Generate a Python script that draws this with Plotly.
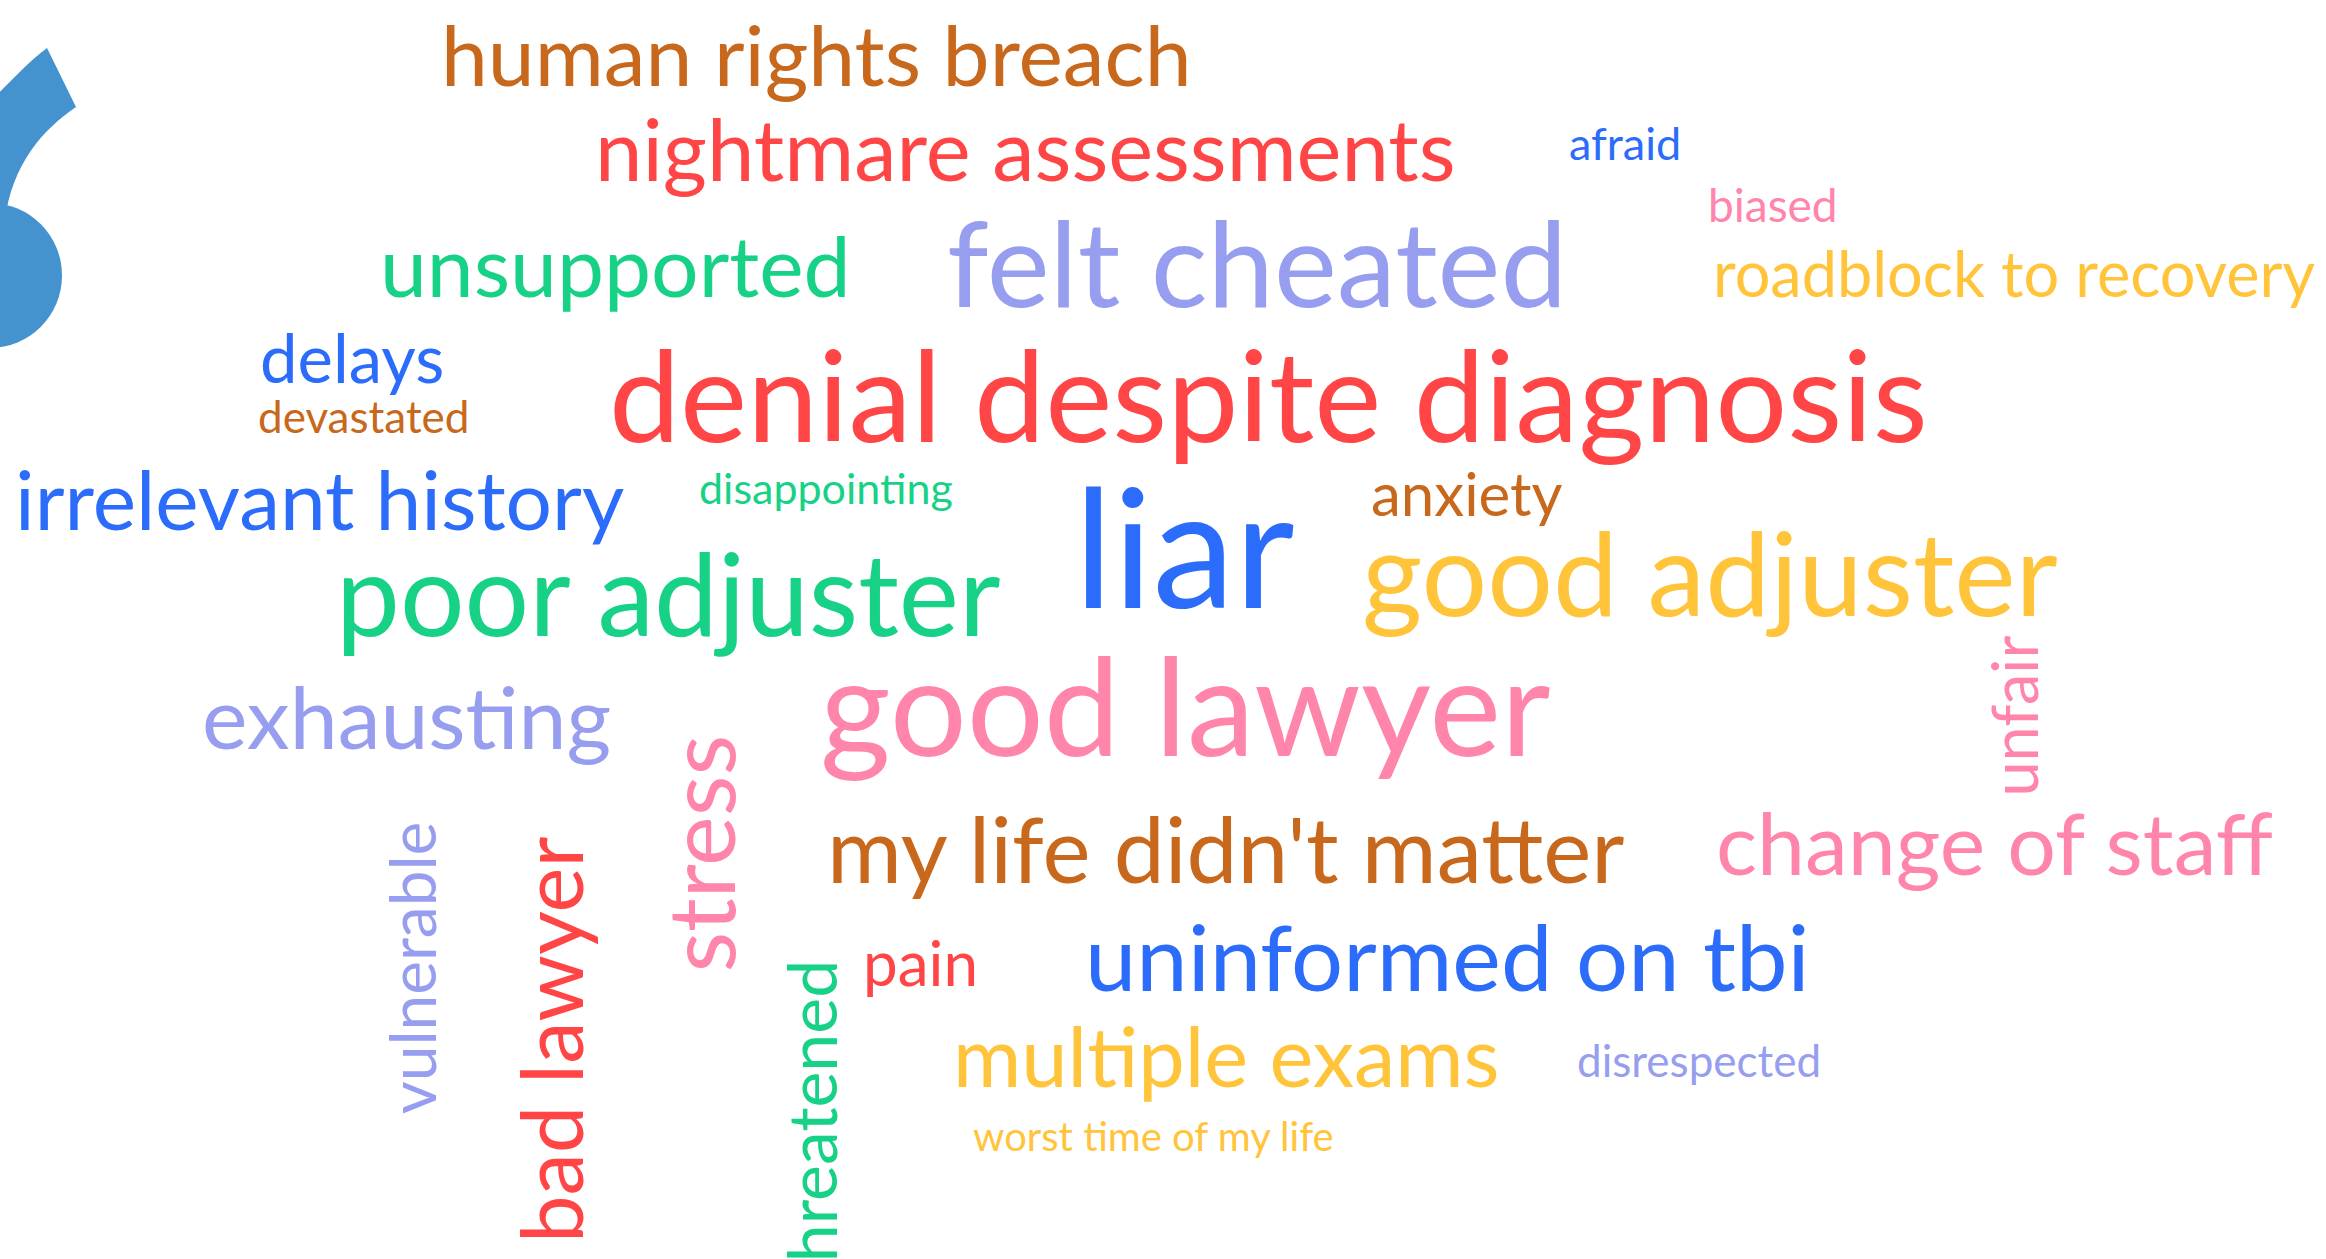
import plotly.graph_objects as go

# ---- data: words and their weights (rendered font size in px) ----
words = [
    "human rights breach", "nightmare assessments", "afraid", "biased",
    "unsupported", "felt cheated", "roadblock to recovery", "delays",
    "devastated", "denial despite diagnosis", "irrelevant history",
    "disappointing", "anxiety", "liar", "poor adjuster", "good adjuster",
    "exhausting", "good lawyer", "unfair", "stress", "my life didn't matter",
    "change of staff", "vulnerable", "bad lawyer", "threatened", "pain",
    "uninformed on tbi", "multiple exams", "disrespected", "worst time of my life",
]
weights = [
    84, 85, 45, 46,
    84, 119, 63, 67,
    44, 127, 82,
    43, 60, 165, 114, 116,
    86, 136, 63, 94, 91,
    86, 64, 85, 68, 62,
    92, 83, 44, 40,
]

# ---- layout of the cloud (x, baseline in page pixels, angle, colour) ----
BROWN, RED, BLUE, GREEN = "#C8681C", "#FF4545", "#2C6CFA", "#17D286"
LAV, PINK, YEL = "#979EF0", "#FF85AA", "#FFC43A"
placement = [
    (816, 86, 0, BROWN), (1025, 181, 0, RED), (1625, 160, 0, BLUE), (1773, 222, 0, PINK),
    (615, 297, 0, GREEN), (1257, 307, 0, LAV), (2014, 297, 0, YEL), (352, 383, 0, BLUE),
    (363, 433, 0, BROWN), (1268, 442, 0, RED), (319, 530, 0, BLUE),
    (826, 504, 0, GREEN), (1467, 516, 0, BROWN), (1184, 608, 0, BLUE), (668, 636, 0, GREEN), (1710, 616, 0, YEL),
    (406, 749, 0, LAV), (1185, 756, 0, PINK), (2037, 716, -90, PINK), (734, 854, -90, PINK), (1225, 883, 0, BROWN),
    (1994, 875, 0, PINK), (436, 968, -90, LAV), (583, 1040, -90, RED), (836, 1123, -90, GREEN), (920, 986, 0, RED),
    (1447, 991, 0, BLUE), (1226, 1087, 0, YEL), (1699, 1077, 0, LAV), (1153, 1151, 0, YEL),
]

W, H = 2326, 1259
FONT = "Lato"
MID = 0.387  # box middle above baseline, in em

fig = go.Figure()
fig.add_trace(go.Scatter(x=[0, W], y=[0, H], mode="markers",
                         marker=dict(opacity=0), hoverinfo="skip", showlegend=False))

annotations = []
for w, s, (x, b, ang, col) in zip(words, weights, placement):
    if ang == 0:
        ax, ay = x, b - MID * s
    else:
        ax, ay = x - MID * s, b
    annotations.append(dict(
        text=w, x=ax, y=ay, xref="x", yref="y", showarrow=False,
        xanchor="center", yanchor="middle", textangle=ang,
        font=dict(family=FONT, size=s, color=col),
    ))

# big blue opening quote mark on the left edge
QUOTE = "#4593CE"
shapes = [
    dict(type="circle", xref="x", yref="y", x0=-82, x1=62, y0=203, y1=348,
         fillcolor=QUOTE, line=dict(width=0)),
    dict(type="path", xref="x", yref="y",
         path="M 47 48 L 76 107 C 42 130 12 165 5 220 L -40 240 L -40 130 C -5 100 18 70 47 48 Z",
         fillcolor=QUOTE, line=dict(width=0)),
]

fig.update_layout(
    width=W, height=H, margin=dict(l=0, r=0, t=0, b=0),
    paper_bgcolor="white", plot_bgcolor="white",
    xaxis=dict(range=[0, W], visible=False, fixedrange=True),
    yaxis=dict(range=[H, 0], visible=False, fixedrange=True),
    annotations=annotations, shapes=shapes, showlegend=False,
)

fig.write_html("out.html", config={"displayModeBar": False},
               post_script="document.body.style.margin='0';document.body.style.overflow='hidden';")
